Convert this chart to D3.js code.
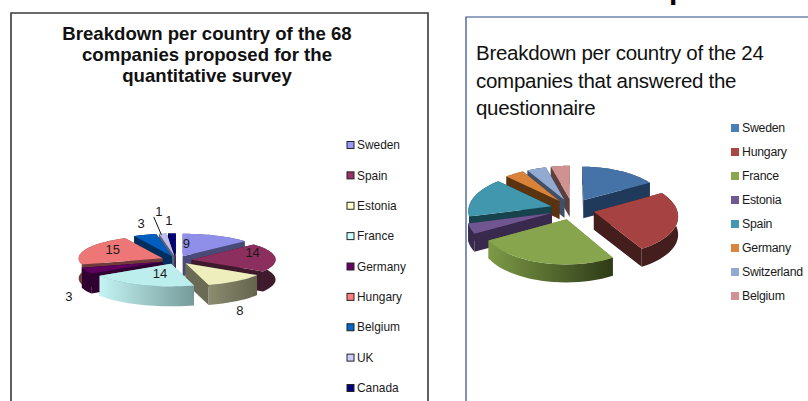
<!DOCTYPE html>
<html>
<head>
<meta charset="utf-8">
<script src="https://cdn.jsdelivr.net/npm/d3@7"></script>
<style>
html,body{margin:0;padding:0;background:#fff;}
svg{display:block;font-family:"Liberation Sans",Arial,sans-serif;}
</style>
</head>
<body>
<svg id="chart" width="808" height="401"></svg>
<script>
// Companies proposed for the survey
const proposedCountries = ["Sweden","Spain","Estonia","France","Germany","Hungary","Belgium","UK","Canada"];
const proposedCounts = [9,14,8,14,3,15,3,1,1];
const proposedTop = ["#8f8fea","#8c2f5e","#eeeebd","#bdeeee","#5e005e","#ee7676","#005fbe","#bebeee","#000078"];
const proposedWall = ["#4a4a78","#3e1a2c","#6a6a55","#84a8a8","#300030","#6e3a3a","#002e5e","#5e5e78","#00003a"];
const proposedKey = ["#9999ff","#993366","#ffffcc","#ccffff","#660066","#ff8080","#0066cc","#ccccff","#000080"];

// Companies that answered the questionnaire
const answeredCountries = ["Sweden","Hungary","France","Estonia","Spain","Germany","Switzerland","Belgium"];
const answeredCounts = [4,6,6,1,4,1,1,1];
const answeredTop = ["#4573a8","#a64342","#87a54c","#6f5690","#4097ae","#d9833a","#92a9d0","#cf9290"];
const answeredWall = ["#1f3a5a","#431e1c","#6f8a3e","#39294c","#17434f","#5a3311","#3f5068","#5a3f3f"];
const answeredKey = ["#4a7ebb","#aa4643","#89a54e","#71588f","#4198af","#db843d","#93a9cf","#d19392"];

const svg = d3.select("#chart");
const defs = svg.append("defs");

// Ground-plane point (unit radius) to screen, with mild perspective towards the viewer
function projector(g) {
  return (gx, gy, drop = 0) => {
    const s = 1 / (1 - g.persp * gy);
    return [g.cx + g.r * gx * s, g.cy + g.r * g.k * gy * s + drop];
  };
}

// Draws one exploded pie as extruded wedges, far slices first
function drawPie(layer, counts, topColors, wallColors, g) {
  const project = projector(g);
  const outline = d3.line();
  const slices = d3.pie().sort(null)(counts).map((d, i) => {
    const mid = (d.startAngle + d.endAngle) / 2;
    return {...d, i, mid,
      ox: g.explode * Math.sin(mid),
      oy: -g.explode * Math.cos(mid)};
  });
  const rim = d => d3.range(0, 25).map(t => {
    const a = d.startAngle + (d.endAngle - d.startAngle) * t / 24;
    return [d.ox + Math.sin(a), d.oy - Math.cos(a)];
  });
  const order = slices.slice().sort((a, b) => a.oy - b.oy);

  order.forEach(d => {
    const wedge = layer.append("g");
    const pts = rim(d);
    const topRing = pts.map(p => project(p[0], p[1]));
    const lowRing = pts.map(p => project(p[0], p[1], g.depth)).reverse();
    const apex = project(d.ox, d.oy);
    const apexLow = project(d.ox, d.oy, g.depth);

    [[topRing[0], project(pts[0][0], pts[0][1], g.depth)],
     [topRing[24], project(pts[24][0], pts[24][1], g.depth)]].forEach(edge => {
      wedge.append("path")
        .attr("d", outline([apex, edge[0], edge[1], apexLow]) + "Z")
        .attr("fill", wallColors[d.i]);
    });

    // Curved wall shaded across its width where a gradient is requested
    let wallFill = wallColors[d.i];
    const shade = g.shades[d.i];
    if (shade) {
      const id = `${g.id}-shade-${d.i}`;
      const xs = topRing.map(p => p[0]);
      const grad = defs.append("linearGradient").attr("id", id)
        .attr("gradientUnits", "userSpaceOnUse")
        .attr("x1", d3.min(xs)).attr("x2", d3.max(xs))
        .attr("y1", 0).attr("y2", 0);
      grad.append("stop").attr("offset", 0).attr("stop-color", shade[0]);
      grad.append("stop").attr("offset", 1).attr("stop-color", shade[1]);
      wallFill = `url(#${id})`;
    }
    wedge.append("path")
      .attr("d", outline(topRing.concat(lowRing)) + "Z")
      .attr("fill", wallFill);
    wedge.append("path")
      .attr("d", outline([apex].concat(topRing)) + "Z")
      .attr("fill", topColors[d.i]);
  });
  return {slices, project};
}

function drawKey(layer, names, colors, o) {
  const y = d3.scalePoint().domain(names).range(o.range);
  const row = layer.selectAll("g").data(names).join("g")
    .attr("transform", d => `translate(${o.x},${y(d)})`);
  row.append("rect")
    .attr("x", 0).attr("y", -o.box / 2).attr("width", o.box).attr("height", o.box)
    .attr("fill", (d, i) => colors[i])
    .attr("stroke", o.stroke).attr("stroke-width", o.strokeWidth);
  row.append("text")
    .attr("x", o.textX).attr("dy", "0.35em")
    .attr("font-size", o.font).attr("letter-spacing", o.spacing)
    .attr("fill", "#1a1a1a").text(d => d);
}

// Frames
svg.append("path").attr("d", "M11,401V13H428V401")
  .attr("fill", "none").attr("stroke", "#3a3a3a").attr("stroke-width", 1.6);
svg.append("path").attr("d", "M466,401V17H808")
  .attr("fill", "none").attr("stroke", "#2c4a86").attr("stroke-width", 1.2);

// Tail of the slide heading running off the top edge
svg.append("text").attr("x", 669).attr("y", -1.5)
  .attr("font-size", 30).attr("font-weight", 700).attr("fill", "#000").text("p");

// Left chart
const leftTitle = ["Breakdown per country of the 68","companies proposed for the","quantitative survey"];
svg.append("g").selectAll("text").data(leftTitle).join("text")
  .attr("x", 207).attr("y", (d, i) => 40 + i * 21)
  .attr("text-anchor", "middle").attr("font-size", 18.6).attr("font-weight", 700)
  .attr("fill", "#111").text(d => d);

const leftPie = drawPie(svg.append("g"), proposedCounts, proposedTop, proposedWall, {
  id: "proposed", cx: 176.5, cy: 260, r: 84, k: 0.268, persp: 0,
  explode: 0.18, depth: 20,
  shades: {2: ["#8c8c70", "#64644e"], 3: ["#c4f4f4", "#769a9a"]}
});

// Value labels, set at a per-slice distance along the slice's mid angle
const leftReach = [0.17, 0.73, 1.07, 0.4, 1.22, 0.65, 1.15, 1.35, 1.5];
const leftNudge = [[-2,-9],[0,-6],[0,28],[1,1.5],[0,24],[0,-3],[0,-8],[0,-14],[-1,-2]];
const labelPoint = d => {
  const [x, y] = leftPie.project(
    d.ox + leftReach[d.i] * Math.sin(d.mid),
    d.oy - leftReach[d.i] * Math.cos(d.mid));
  return [x + leftNudge[d.i][0], y + leftNudge[d.i][1]];
};
svg.append("g").selectAll("text").data(leftPie.slices).join("text")
  .attr("transform", d => `translate(${labelPoint(d)})`)
  .attr("text-anchor", "middle").attr("dy", "0.35em")
  .attr("font-size", 13).attr("fill", "#1a1a1a").text(d => d.value);

// Leader from the UK value to its slice
const ukSlice = leftPie.slices[7];
const ukLabel = labelPoint(ukSlice);
const ukEnd = leftPie.project(ukSlice.ox + 0.95 * Math.sin(ukSlice.mid), ukSlice.oy - 0.95 * Math.cos(ukSlice.mid));
svg.append("line")
  .attr("x1", ukLabel[0] - 5).attr("y1", ukLabel[1] + 5)
  .attr("x2", ukEnd[0] - 2).attr("y2", ukEnd[1])
  .attr("stroke", "#111").attr("stroke-width", 1);

drawKey(svg.append("g"), proposedCountries, proposedKey, {
  x: 347, range: [145, 388], box: 7, stroke: "#222", strokeWidth: 1,
  textX: 10, font: 11.9, spacing: 0
});

// Right chart
const rightTitle = ["Breakdown per country of the 24","companies that answered the","questionnaire"];
svg.append("g").selectAll("text").data(rightTitle).join("text")
  .attr("x", 476).attr("y", (d, i) => 60 + i * 27.5)
  .attr("font-size", 20.5).attr("letter-spacing", -0.28)
  .attr("fill", "#111").text(d => d);

drawPie(svg.append("g"), answeredCounts, answeredTop, answeredWall, {
  id: "answered", cx: 572.5, cy: 209, r: 83, k: 0.465, persp: 0.1,
  explode: 0.265, depth: 18,
  shades: {2: ["#7d9a46", "#2e3a17"]}
});

drawKey(svg.append("g"), answeredCountries, answeredKey, {
  x: 731, range: [128, 296], box: 8, stroke: "none", strokeWidth: 0,
  textX: 11, font: 12.3, spacing: -0.25
});
</script>
</body>
</html>
